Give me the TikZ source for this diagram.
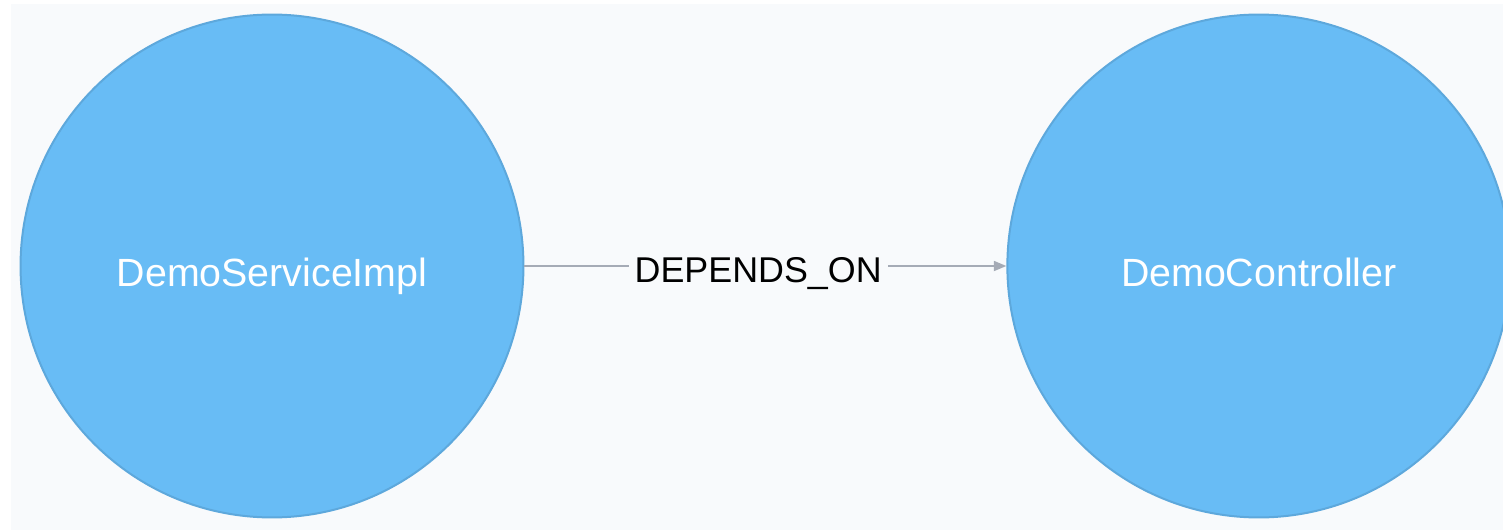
\documentclass[tikz,border=0pt]{standalone}
\usepackage{fontspec}
\setmainfont{Liberation Sans}
\usetikzlibrary{arrows.meta, positioning}
\definecolor{nodefill}{HTML}{68BCF5}
\definecolor{nodeline}{HTML}{5DA8DC}
\definecolor{edgegray}{HTML}{A5ABB6}
\definecolor{canvas}{HTML}{F8FAFC}

\begin{document}
\begin{tikzpicture}[x=0.02cm, y=-0.02cm]
    % Canvas and page size
    \useasboundingbox (0,0) rectangle (1503,530);
    \fill[white] (0,0) rectangle (1503,530);
    \fill[canvas] (11,4) rectangle (1503,530);
    \clip (0,0) rectangle (1503,530);
    % Nodes
    \node (svc) [circle, draw=nodeline, line width=0.04cm, fill=nodefill, text=white, minimum size=10.06cm, inner sep=0pt, text height=0.84cm, text depth=0pt, font=\fontsize{22.4}{26}\selectfont] at (272,266) {DemoServiceImpl};
    \node (ctrl) [circle, draw=nodeline, line width=0.04cm, fill=nodefill, text=white, minimum size=10.06cm, inner sep=0pt, text height=0.84cm, text depth=0pt, font=\fontsize{22.4}{26}\selectfont, right=9.64cm of svc] {DemoController};
    % Relationship
    \draw[edgegray, line width=0.035cm, -{Triangle[length=0.25cm, width=0.2cm]}] (svc) -- node[pos=0.485, anchor=center, fill=canvas, text=black, inner xsep=0.12cm, inner ysep=0pt, text height=0.68cm, text depth=0pt, font=\fontsize{20.4}{24}\selectfont] (rel) {DEPENDS\_ON} (ctrl);
\end{tikzpicture}
\end{document}
